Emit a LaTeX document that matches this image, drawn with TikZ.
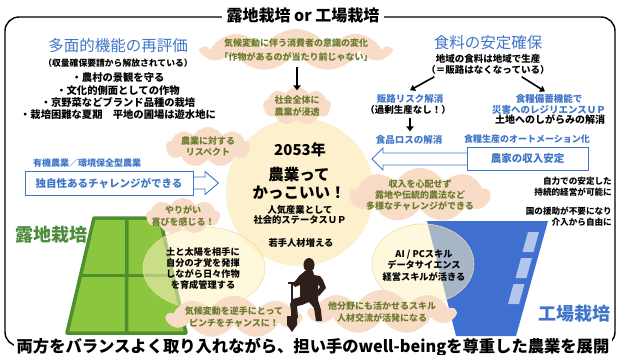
\documentclass[tikz,border=0pt]{standalone}
\usepackage{fontspec}
\setmainfont{Noto Sans CJK JP}
\usetikzlibrary{shapes.symbols,shapes.geometric,arrows.meta,calc}

\definecolor{tblue}{HTML}{3F75C8}
\definecolor{olivetxt}{HTML}{6A7A2A}
\definecolor{cloudfill}{HTML}{F8DCC8}
\definecolor{corefill}{HTML}{FDF0CC}
\definecolor{ellfill}{HTML}{FDF2C0}
\definecolor{ellline}{HTML}{EEDDA0}
\definecolor{fieldgreen}{HTML}{8CC63F}
\definecolor{fielddark}{HTML}{4F8F2F}
\definecolor{labelgreen}{HTML}{4B8B3B}
\definecolor{factory}{HTML}{3F6FCF}
\definecolor{window}{HTML}{C9D5F0}
\definecolor{farmer}{HTML}{2E2018}

\newcommand{\fsz}[2]{\fontsize{#1}{#2}\selectfont}

\begin{document}
\begin{tikzpicture}[x=1pt,y=-1pt,
  cloudbg/.style={cloud, cloud puffs=9, cloud puff arc=125, cloud ignores aspect,
    fill=cloudfill, draw=none, inner sep=0pt},
  cloudtxt/.style={text=olivetxt, font=\bfseries\fsz{9}{11.5}, align=center, inner sep=0pt},
  bluetxt/.style={text=tblue, font=\bfseries\fsz{9.5}{10.5}, align=center, inner sep=0pt},
  blacktxt/.style={text=black, font=\bfseries\fsz{9.5}{11}, align=center, inner sep=0pt},
  heading/.style={text=tblue, font=\fsz{15.5}{18}, inner sep=0pt},
  bigarrow/.style={line width=2.2pt, -{Triangle[length=5pt,width=7.5pt]}},
  midarrow/.style={line width=1.6pt, -{Triangle[length=5pt,width=6.5pt]}},
  hollow/.style={draw=tblue, fill=white, line width=0.9pt, line join=miter},
  bluebox/.style={draw=tblue, fill=white, line width=0.9pt, inner sep=0pt},
  frame/.style={draw=black, line width=1.4pt, rounded corners=14pt},
  softell/.style={ellipse, fill=ellfill, fill opacity=0.55, draw=ellline, line width=0.6pt},
]
\useasboundingbox (0,0) rectangle (620,355);

% outer frame with title and closing sentence laid over it
\draw[frame] (5,17) rectangle (615,346);
\node[fill=white, inner xsep=5pt, inner ysep=1pt, font=\bfseries\fsz{16}{18}] (title) at (303,15) {露地栽培 or 工場栽培};
\node[fill=white, inner xsep=3pt, inner ysep=0pt, font=\bfseries\fsz{16.3}{18}] (motto) at (313,347) {両方をバランスよく取り入れながら、担い手のwell-beingを尊重した農業を展開};

% central vision circle
\node[circle, minimum size=148pt, fill=corefill, inner sep=0pt] (core) at (300,192) {};

% open-field plot
\coordinate (gTL) at (94,218);
\coordinate (gTR) at (160,218);
\coordinate (gBR) at (186,333);
\coordinate (gBL) at (67,333);
\filldraw[fill=fieldgreen, draw=fielddark, line width=3.5pt, line join=round]
  (gTL) -- (gTR) -- (gBR) -- (gBL) -- cycle;
\draw[fielddark, line width=3.5pt] ($(gTL)!0.5!(gTR)$) -- ($(gBL)!0.5!(gBR)$);
\draw[fielddark, line width=3.5pt] ($(gTL)!0.5!(gBL)$) -- ($(gTR)!0.5!(gBR)$);

% plant factory
\fill[factory] (427,221) -- (548,221) -- (516,336) -- (456,336) -- cycle;
\fill[window, fill opacity=0.85] (528,232) -- (539,232) -- (533.5,252) -- (522.5,252) -- cycle;
\fill[window, fill opacity=0.85] (521,258) -- (532,258) -- (526.5,278) -- (515.5,278) -- cycle;
\fill[window, fill opacity=0.85] (513.5,284) -- (524.5,284) -- (519,304) -- (508,304) -- cycle;

% skill bubbles over the two plots
\node[softell, minimum width=122pt, minimum height=82pt] (lell) at (204,268) {};
\node[softell, minimum width=102pt, minimum height=80pt] (rell) at (423,264) {};

% thought clouds
\node[cloudbg, minimum width=186pt, minimum height=42pt] (c1) at (296,50) {};
\node[cloudbg, minimum width=68pt, minimum height=38pt] (c2) at (297,106) {};
\node[cloudbg, minimum width=84pt, minimum height=40pt] (c3) at (208,147) {};
\node[cloudbg, minimum width=74pt, minimum height=36pt] (c4) at (183,216) {};
\node[cloudbg, minimum width=140pt, minimum height=54pt] (c5) at (420,195) {};
\node[cloudbg, minimum width=134pt, minimum height=42pt] (c6) at (234,317) {};
\node[cloudbg, minimum width=146pt, minimum height=44pt] (c7) at (382,312) {};

% farmer with a spade
\fill[farmer] (309,265) ellipse (5.5 and 7);
\fill[farmer] (305,271) -- (313,271) -- (314,275) -- (320,276) -- (323,280) -- (326,288)
  -- (319,296) -- (316,293) -- (320,287) -- (318,284) -- (318,300) -- (321,310)
  -- (322,321) -- (316,321) -- (314,308) -- (309,302) -- (302,305) -- (297,306)
  -- (298,318) -- (292,318) -- (290,304) -- (293,299) -- (300,297) -- (300,285)
  -- (295,287) -- (292,284) -- (296,280) -- (299,276) -- cycle;
\draw[farmer, line width=1.6pt] (288,283) -- (296,283);
\draw[farmer, line width=1.3pt] (292,283) -- (292,317);
\fill[farmer] (287,316) -- (297,316) -- (297,325) -- (292,332) -- (287,325) -- cycle;

% left column: multifunctionality
\node[heading] (mf) at (118,46) {多面的機能の再評価};
\node[blacktxt, font=\bfseries\fsz{8.8}{10}] (mfsub) at (118,63) {（収量確保要請から解放されている）};
\node[blacktxt, font=\bfseries\fsz{10.3}{12.3}] (mflist) at (118,96.5)
  {・農村の景観を守る\\・文化的側面としての作物\\・京野菜などブランド品種の栽培\\・栽培困難な夏期　平地の圃場は遊水地に};

% right column: food security
\node[heading] (fs) at (488,43) {食料の安定確保};
\node[blacktxt] (fs1) at (488,59) {地域の食料は地域で生産};
\node[blacktxt] (fs2) at (488,70) {（＝販路はなくなっている）};
\node[bluetxt] (hr1) at (410,99) {販路リスク解消};
\node[blacktxt] (hr2) at (408,110) {（過剰生産なし！）};
\node[bluetxt] (fl) at (409,140) {食品ロスの解消};
\node[bluetxt] (st1) at (549,104.5) {食糧備蓄機能で\\災害へのレジリエンスＵＰ};
\node[blacktxt, font=\bfseries\fsz{10}{11}] (st2) at (550,120) {土地へのしがらみの解消};

\draw[midarrow] ($(fs2.south west)+(8,2)$) -- ($(hr1.north)+(0,-4)$);
\draw[midarrow] ($(fs2.south east)+(-28,2)$) -- ($(st1.north)+(-4,-3)$);
\draw[bigarrow] ($(hr2.south)+(2,3)$) -- ($(fl.north)+(1,-4)$);

% open arrows with their boxes
\coordinate (lbe) at (193,183);
\draw[hollow] ($(lbe)+(-8,-6)$) -- ++(20,0) -- ++(0,-5.5) -- ++(13.5,11.5)
  -- ++(-13.5,11.5) -- ++(0,-5.5) -- ++(-20,0) -- cycle;
\node[bluebox, minimum width=168pt, minimum height=24pt] (lbox) at (109,183) {};
\node[bluetxt, font=\bfseries\fsz{10.5}{12}] (lboxt) at (lbox) {独自性あるチャレンジができる};
\node[bluetxt, font=\bfseries\fsz{9}{10}, anchor=west] (org) at (33,163) {有機農業／環境保全型農業};

\coordinate (rbw) at (467,159);
\draw[hollow] ($(rbw)+(8,-6)$) -- ++(-92,0) -- ++(0,-5) -- ++(-11,11)
  -- ++(11,11) -- ++(0,-5) -- ++(92,0) -- cycle;
\node[bluebox, minimum width=121pt, minimum height=23pt] (rbox) at (527.5,158.5) {};
\node[bluetxt, font=\bfseries\fsz{10.5}{12}] (rboxt) at (rbox) {農家の収入安定};
\node[bluetxt, font=\bfseries\fsz{9}{10}] (auto) at (527,139) {食糧生産のオートメーション化};

% cloud captions
\node[cloudtxt, font=\bfseries\fsz{9}{13.5}] (c1t) at (c1) {気候変動に伴う消費者の意識の変化\\「作物があるのが当たり前じゃない」};
\node[cloudtxt, font=\bfseries\fsz{9}{12.5}] (c2t) at (c2) {社会全体に\\農業が浸透};
\node[cloudtxt, font=\bfseries\fsz{9}{11}] (c3t) at (c3) {農業に対する\\リスペクト};
\node[cloudtxt, font=\bfseries\fsz{9}{12}] (c4t) at (c4) {やりがい\\喜びを感じる！};
\node[cloudtxt, font=\bfseries\fsz{9}{11}] (c5t) at (c5) {収入を心配せず\\露地や伝統的農法など\\多様なチャレンジができる};
\node[cloudtxt, font=\bfseries\fsz{9}{12}] (c6t) at (c6) {気候変動を逆手にとって\\ピンチをチャンスに！};
\node[cloudtxt, font=\bfseries\fsz{9}{11.5}] (c7t) at (c7) {他分野にも活かせるスキル\\人材交流が活発になる};

\draw[bigarrow] ($(c1t.south)+(1,6)$) -- ($(c2t.north)+(0,-5)$);

% circle contents
\node[blacktxt, font=\bfseries\fsz{15}{17}] (yr) at (300,150) {2053年};
\node[blacktxt, font=\bfseries\fsz{15.5}{18.5}] (cool) at (299,183.5) {農業って\\かっこいい！};
\node[blacktxt, font=\bfseries\fsz{9.3}{10.5}] (stat) at (300,215) {人気産業として\\社会的ステータスＵＰ};
\node[blacktxt, font=\bfseries\fsz{9.3}{10.5}] (young) at (301,243) {若手人材増える};

% skill bubble captions
\node[blacktxt, font=\bfseries\fsz{9.2}{11}] (lellt) at (203,268.5) {土と太陽を相手に\\自分の才覚を発揮\\しながら日々作物\\を育成管理する};
\node[blacktxt, font=\bfseries\fsz{9.2}{11.5}] (rellt) at (424,265.5) {AI / PCスキル\\データサイエンス\\経営スキルが活きる};

% side notes
\node[blacktxt, font=\bfseries\fsz{8.6}{11}, align=right, anchor=east] (self) at (612,186.5) {自力での安定した\\持続的経営が可能に};
\node[blacktxt, font=\bfseries\fsz{8.6}{11}, align=right, anchor=east] (free) at (612,216.5) {国の援助が不要になり\\介入から自由に};

% plot labels
\node[text=labelgreen, font=\bfseries\fsz{18}{20}, inner sep=0pt] (fieldlbl) at (51,235) {露地栽培};
\node[text=tblue, font=\bfseries\fsz{18}{20}, inner sep=0pt] (factlbl) at (574,314) {工場栽培};
\end{tikzpicture}
\end{document}
